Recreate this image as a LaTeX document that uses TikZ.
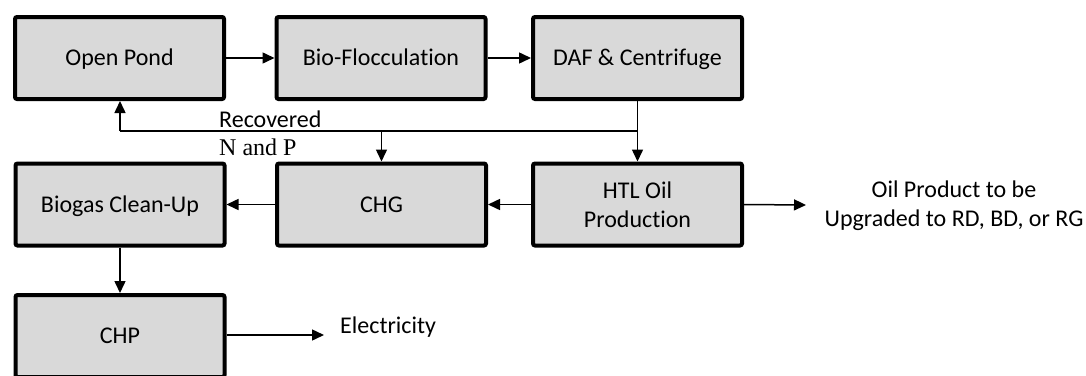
\documentclass[tikz,border=0pt]{standalone}
\usepackage{fontspec}
\setmainfont[Ligatures={NoCommon}]{Carlito}
\newfontfamily\seriffont{Liberation Serif}
\usetikzlibrary{arrows.meta}
\begin{document}
\begin{tikzpicture}[x=1pt,y=-1pt,
  procbox/.style={draw=black,line width=4pt,fill=boxgray,rounded corners=2pt,
    minimum width=209pt,minimum height=82pt,inner sep=0pt,align=center,
    font=\fontsize{24}{29}\selectfont},
  oneline/.style={text height=19pt,text depth=3.5pt},
  flow/.style={line width=1.5pt,-{Triangle[length=12pt,width=11pt]}},
  plain/.style={line width=1.5pt},
  lbl/.style={inner sep=0pt,align=center,font=\fontsize{24}{29}\selectfont}]
\definecolor{boxgray}{HTML}{D9D9D9}
\useasboundingbox (0,0) rectangle (1086,375);
\begin{scope}
\clip (0,0) rectangle (1086,375);
\node[procbox,oneline] (pond) at (119.5,58) {Open Pond};
\node[procbox,oneline] (floc) at (381,58) {Bio-Flocculation};
\node[procbox,oneline] (daf) at (637.5,58) {DAF \& Centrifuge};
\node[procbox,oneline] (bio) at (120,204.5) {Biogas Clean-Up};
\node[procbox,oneline] (chg) at (381.5,204.5) {CHG};
\node[procbox] (htl) at (637.5,204.5) {HTL Oil\\Production};
\node[procbox,oneline] (chp) at (120,336) {CHP};
\end{scope}
\node[lbl,anchor=west] (elec) at (340,327) {Electricity};
\node[lbl] (oil) at (954,206) {Oil Product to be\\Upgraded to RD, BD, or RG};
\node[lbl,anchor=west] (rec) at (219,119) {Recovered};
\node[lbl,anchor=west,font=\seriffont\fontsize{24}{29}\selectfont] (np) at (219,147) {N and P};
\coordinate (jr) at (637.5,131);
\coordinate (jl) at (120,131);
\coordinate (jm) at (381.5,131);
\coordinate (oilend) at (806,205);
\coordinate (elecend) at (324,335);
\draw[flow] (pond) -- (floc);
\draw[flow] (floc) -- (daf);
\draw[flow] (daf) -- (htl);
\draw[plain] (jr) -- (jl);
\draw[flow] (jl) -- (pond.south -| jl);
\draw[flow] (jm) -- (chg);
\draw[flow] (htl) -- (chg);
\draw[flow] (chg) -- (bio);
\draw[flow] (bio) -- (chp);
\draw[flow] (htl.east) -- (oilend);
\draw[flow] (chp.east |- elecend) -- (elecend);
\end{tikzpicture}
\end{document}
